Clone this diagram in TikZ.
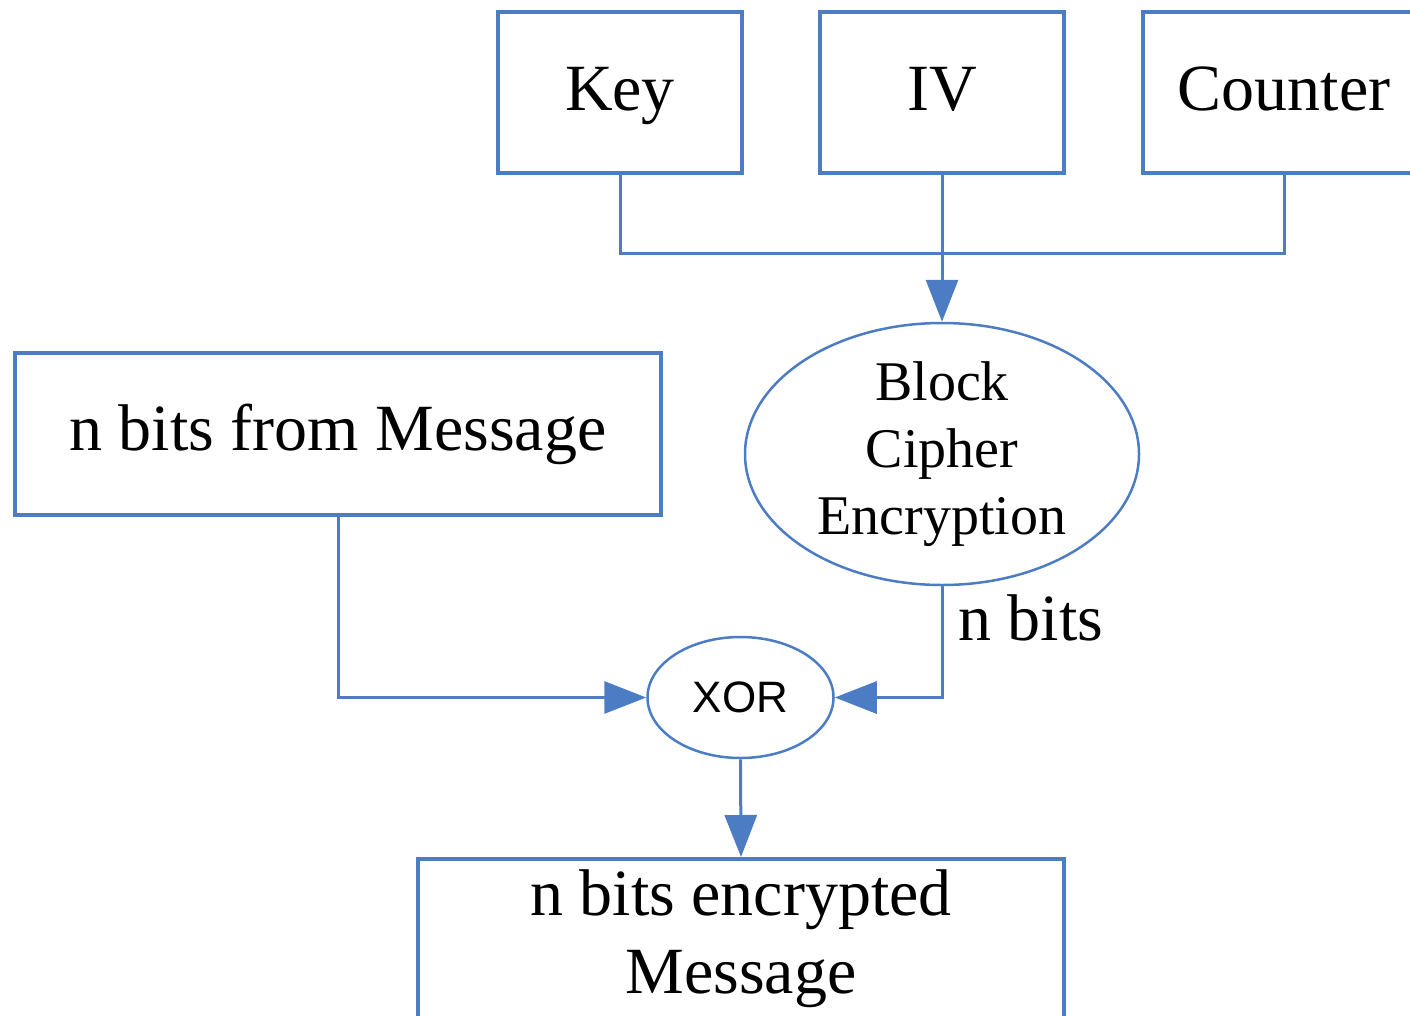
\documentclass[tikz,border=0pt]{standalone}
\usepackage{fontspec}
\setmainfont{Liberation Serif}
\newfontfamily\xorfont{Liberation Sans}
\usetikzlibrary{arrows.meta,shapes.geometric}
\definecolor{lineblue}{RGB}{76,124,196}
\tikzset{
  box/.style={draw=lineblue, line width=3.5pt, rectangle, inner sep=0pt,
    font=\fontsize{66}{78}\selectfont, align=center},
  inbox/.style={box, minimum height=161pt, text height=50pt, text depth=14pt},
  oval/.style={draw=lineblue, line width=2.5pt, ellipse, inner sep=0pt, align=center},
  wire/.style={draw=lineblue, line width=3pt},
  flow/.style={wire, -{Triangle[length=42pt,width=32pt]}},
}
\begin{document}
\begin{tikzpicture}[x=1pt,y=-1pt]
  \useasboundingbox (0,0) rectangle (1410,1015);

  % input boxes
  \node[inbox, minimum width=244pt] (key) at (620,92.5) {Key};
  \node[inbox, minimum width=244pt] (iv) at (942,92.5) {IV};
  \node[inbox, minimum width=282pt] (ctr) at (1284,92.5) {Counter};

  % cipher and message
  \node[oval, minimum width=394pt, minimum height=262pt,
        font=\fontsize{56}{67}\selectfont] (cipher) at (942,454) {Block\\Cipher\\Encryption};
  \node[box, minimum width=646pt, minimum height=162pt] (msg) at (338,434) {n bits from Message};

  % XOR
  \node[oval, minimum width=186pt, minimum height=121pt,
        font=\xorfont\fontsize{44}{50}\selectfont] (xor) at (740.5,697.5) {XOR};

  % output box
  \node[box, anchor=north, minimum width=646pt, minimum height=160pt] (out) at (741,857)
    {n bits encrypted\\Message};

  % bus from the three inputs into the cipher
  \coordinate (busL) at (key.south |- 0,253);
  \coordinate (busR) at (ctr.south |- 0,253);
  \draw[wire] (key.south) -- (busL) -- (busR) -- (ctr.south);
  \draw[flow] (iv.south) -- (cipher.north);

  % into XOR
  \coordinate (msgturn) at (msg.south |- xor.west);
  \draw[flow] (msg.south) -- (msgturn) -- (xor.west);
  \coordinate (ciphturn) at (cipher.south |- xor.east);
  \draw[flow] (cipher.south) -- (ciphturn) -- (xor.east);
  \node[anchor=west, font=\fontsize{66}{78}\selectfont, inner sep=0pt] (nbits) at (958,618) {n bits};

  % XOR result
  \draw[flow] (xor.south) -- (out.north);
\end{tikzpicture}
\end{document}
